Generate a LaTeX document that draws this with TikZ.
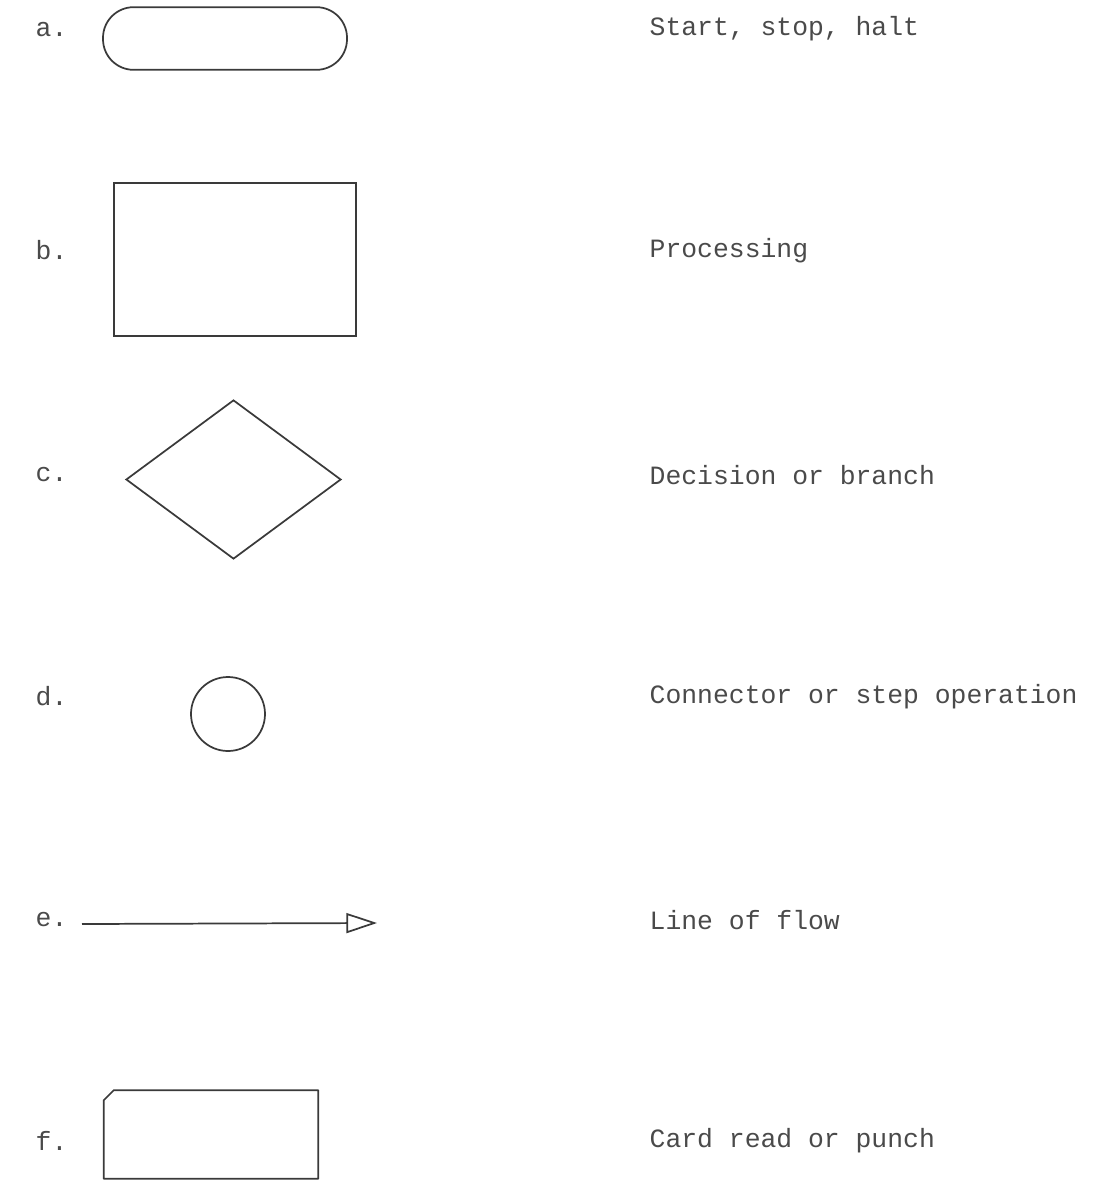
\documentclass[tikz,border=0pt]{standalone}
\usepackage{fontspec}
\setmonofont{Liberation Mono}
\usetikzlibrary{arrows.meta,shapes.geometric}
\definecolor{flowink}{HTML}{3A3A3A}
\definecolor{flowtext}{HTML}{4A4A4A}

\begin{document}
\begin{tikzpicture}[x=.75pt,y=-.75pt,font=\fontsize{19.8}{24}\ttfamily,
    symbol/.style={draw=flowink,line width=1.3pt,inner sep=0pt},
    tag/.style={anchor=west,text=flowtext},
    caption/.style={anchor=west,text=flowtext}]
        \useasboundingbox (0,0) rectangle (1092,1180);

        % a. terminal
        \node[tag] (tagA) at (31,30) {a.};
        \node[symbol,rectangle,rounded corners=23pt,minimum width=183pt,minimum height=47pt] (terminal) at (225,38.5) {};
        \node[caption] (capA) at (645,29) {Start, stop, halt};

        % b. process
        \node[tag] (tagB) at (31,250) {b.};
        \node[symbol,rectangle,minimum width=181.5pt,minimum height=114.75pt] (process) at (235,259.5) {};
        \node[caption] (capB) at (645,251) {Processing};

        % c. decision
        \node[tag] (tagC) at (31,475) {c.};
        \node[symbol,diamond,minimum width=161.25pt,minimum height=119.25pt] (decision) at (233.5,479.5) {};
        \node[caption] (capC) at (645,475) {Decision or branch};

        % d. connector
        \node[tag] (tagD) at (31,696) {d.};
        \node[symbol,circle,minimum size=55.5pt] (connector) at (228,714) {};
        \node[caption] (capD) at (645,697) {Connector or step operation};

        % e. flow line
        \node[tag] (tagE) at (31,920) {e.};
        \coordinate (flowStart) at (82,924);
        \coordinate (flowEnd) at (377,923);
        \draw[flowink,line width=1.3pt,-{Triangle[open,length=23pt,width=15pt,line width=1.3pt]}] (flowStart) -- (flowEnd);
        \node[caption] (capE) at (645,920) {Line of flow};

        % f. card (corner cut top left)
        \node[tag] (tagF) at (31,1141) {f.};
        \node[rectangle,inner sep=0pt,minimum width=160.5pt,minimum height=66pt] (card) at (211,1134.5) {};
        \draw[flowink,line width=1.3pt,line join=round]
          ([xshift=7.5pt]card.north west) -- (card.north east) -- (card.south east)
          -- (card.south west) -- ([yshift=-7.5pt]card.north west) -- cycle;
        \node[caption] (capF) at (645,1141) {Card read or punch};
      \end{tikzpicture}
\end{document}
